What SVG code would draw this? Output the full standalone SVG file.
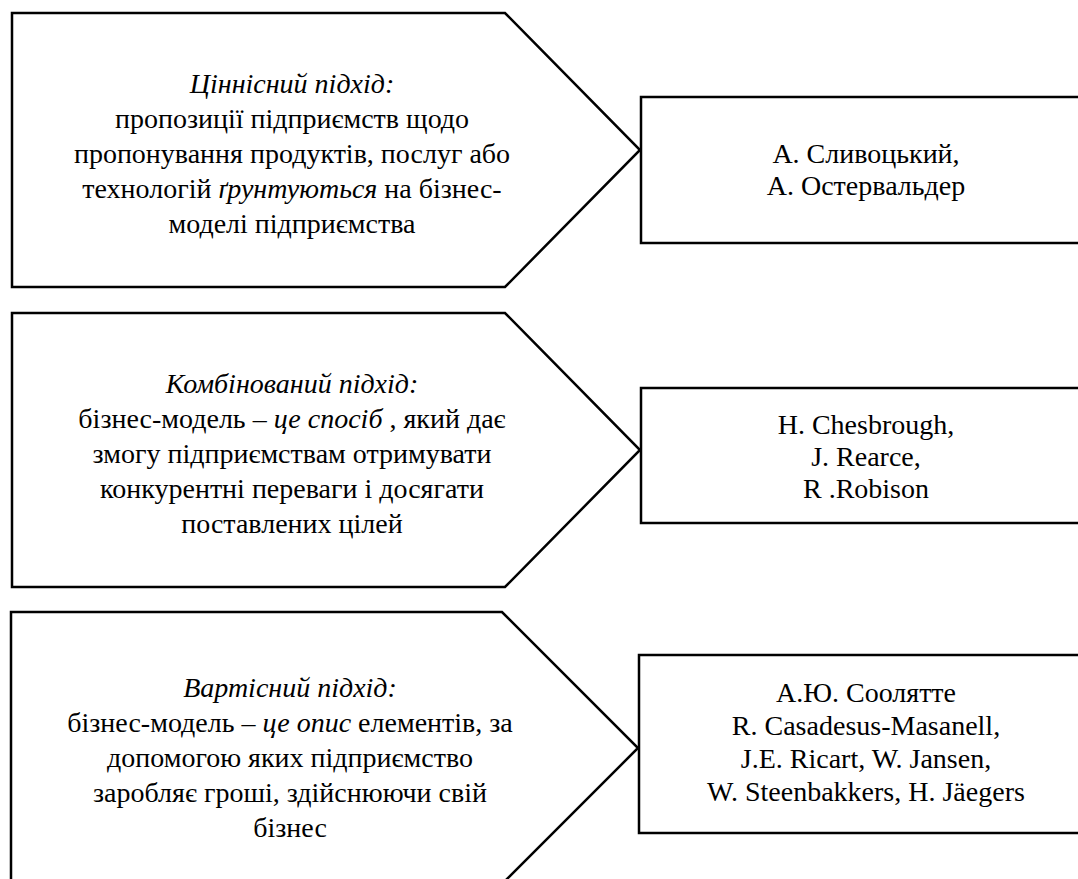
<svg xmlns="http://www.w3.org/2000/svg" width="1078" height="879" viewBox="0 0 1078 879">
<rect width="1078" height="879" fill="#fff"/>
<g font-size="28">
<g id="approach-value">
<polygon fill="#fff" stroke="#000" stroke-width="2.5" points="12,13 505,13 640,150 505,287 12,287"/>
<text x="292" y="93" text-anchor="middle" font-family="'Liberation Serif'" font-style="italic">Ціннісний підхід:</text>
<text x="292" y="128" text-anchor="middle" font-family="'Liberation Serif'">пропозиції підприємств щодо</text>
<text x="292" y="163" text-anchor="middle" font-family="'Liberation Serif'">пропонування продуктів, послуг або</text>
<text x="292" y="198" text-anchor="middle" font-family="'Liberation Serif'">технологій <tspan font-style="italic">ґрунтуються</tspan> на бізнес-</text>
<text x="292" y="233" text-anchor="middle" font-family="'Liberation Serif'">моделі підприємства</text>
</g>
<g id="authors-value">
<rect fill="#fff" stroke="#000" stroke-width="2.5" x="641" y="97" width="460" height="146"/>
<text x="866" y="163" text-anchor="middle" font-family="'Liberation Serif'">А. Сливоцький,</text>
<text x="866" y="195" text-anchor="middle" font-family="'Liberation Serif'">А. Остервальдер</text>
</g>
<g id="approach-combined">
<polygon fill="#fff" stroke="#000" stroke-width="2.5" points="12,313 505,313 640,450 505,587 12,587"/>
<text x="292" y="393" text-anchor="middle" font-family="'Liberation Serif'" font-style="italic">Комбінований підхід:</text>
<text x="292" y="428" text-anchor="middle" font-family="'Liberation Serif'">бізнес-модель – <tspan font-style="italic">це спосіб</tspan> , який дає</text>
<text x="292" y="463" text-anchor="middle" font-family="'Liberation Serif'">змогу підприємствам отримувати</text>
<text x="292" y="498" text-anchor="middle" font-family="'Liberation Serif'">конкурентні переваги і досягати</text>
<text x="292" y="533" text-anchor="middle" font-family="'Liberation Serif'">поставлених цілей</text>
</g>
<g id="authors-combined">
<rect fill="#fff" stroke="#000" stroke-width="2.5" x="641" y="388" width="460" height="135"/>
<text x="866" y="434" text-anchor="middle" font-family="'Liberation Serif'">H. Chesbrough,</text>
<text x="866" y="466" text-anchor="middle" font-family="'Liberation Serif'">J. Rearce,</text>
<text x="866" y="498" text-anchor="middle" font-family="'Liberation Serif'">R .Robison</text>
</g>
<g id="approach-cost">
<polygon fill="#fff" stroke="#000" stroke-width="2.5" points="11,612 502,612 638,748 502,884 11,884"/>
<text x="290" y="697" text-anchor="middle" font-family="'Liberation Serif'" font-style="italic">Вартісний підхід:</text>
<text x="290" y="732" text-anchor="middle" font-family="'Liberation Serif'">бізнес-модель – <tspan font-style="italic">це опис</tspan> елементів, за</text>
<text x="290" y="767" text-anchor="middle" font-family="'Liberation Serif'">допомогою яких підприємство</text>
<text x="290" y="802" text-anchor="middle" font-family="'Liberation Serif'">заробляє гроші, здійснюючи свій</text>
<text x="290" y="837" text-anchor="middle" font-family="'Liberation Serif'">бізнес</text>
</g>
<g id="authors-cost">
<rect fill="#fff" stroke="#000" stroke-width="2.5" x="639" y="655" width="460" height="178"/>
<text x="866" y="702" text-anchor="middle" font-family="'Liberation Serif'">А.Ю. Соолятте</text>
<text x="866" y="735" text-anchor="middle" font-family="'Liberation Serif'">R. Casadesus-Masanell,</text>
<text x="866" y="768" text-anchor="middle" font-family="'Liberation Serif'">J.E. Ricart, W. Jansen,</text>
<text x="866" y="801" text-anchor="middle" font-family="'Liberation Serif'">W. Steenbakkers, H. Jäegers</text>
</g>
</g>
<g id="connectors"></g>
</svg>
